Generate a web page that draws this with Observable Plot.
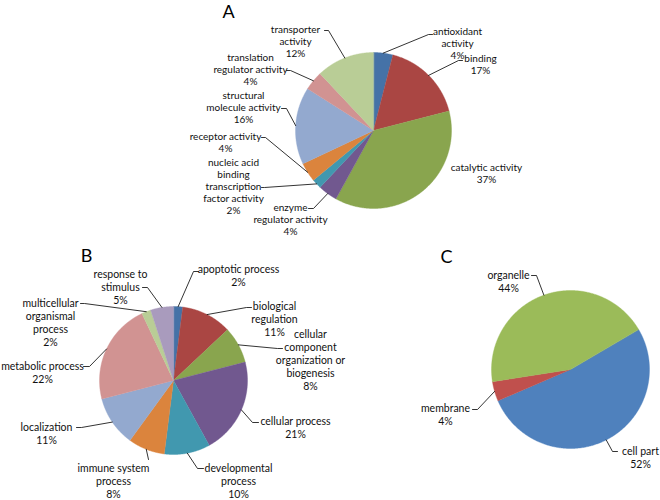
<!DOCTYPE html>
<html><head><meta charset="utf-8">
<script src="https://cdn.jsdelivr.net/npm/d3@7"></script>
<script src="https://cdn.jsdelivr.net/npm/@observablehq/plot@0.6"></script>
<style>body{margin:0;background:#fff}#chart svg{display:block}</style>
</head><body><div id="chart"></div>
<script>
// ---- Data ----
const categoriesA = ["antioxidant activity","binding","catalytic activity","enzyme regulator activity","nucleic acid binding transcription factor activity","receptor activity","structural molecule activity","translation regulator activity","transporter activity"];
const valuesA = [4,17,37,4,2,4,16,4,12];
const colorsA = ["#4572A7","#AA4643","#89A54E","#71588F","#4198AF","#DB843D","#93A9CF","#D19392","#B9CD96"];

const categoriesB = ["apoptotic process","biological regulation","cellular component organization or biogenesis","cellular process","developmental process","immune system process","localization","metabolic process","multicellular organismal process","response to stimulus"];
const valuesB = [2,11,8,21,10,8,11,22,2,5];
const colorsB = ["#4572A7","#AA4643","#89A54E","#71588F","#4198AF","#DB843D","#93A9CF","#D19392","#B9CD96","#A99BBD"];

const categoriesC = ["cell part","membrane","organelle"];
const valuesC = [52,4,44];
const colorsC = ["#4F81BD","#C0504D","#9BBB59"];

const panelLetters = ["A","B","C"];

// ---- Layout (positions only) ----
const layoutA = {
  "antioxidant activity": {lines:["antioxidant","activity"], x:457, y:31, lead:[[432,34],[428,34]]},
  "binding": {lines:["binding"], x:480, y:58, lead:[[462,60],[458,60]]},
  "catalytic activity": {lines:["catalytic activity"], x:486, y:167, lead:null},
  "enzyme regulator activity": {lines:["enzyme","regulator activity"], x:290, y:207, lead:[[308,208],[313,208]]},
  "nucleic acid binding transcription factor activity": {lines:["nucleic acid","binding","transcription","factor activity"], x:233, y:162, lead:[[261,187],[264,187]]},
  "receptor activity": {lines:["receptor activity"], x:225, y:136, lead:[[261,137],[265,137]]},
  "structural molecule activity": {lines:["structural","molecule activity"], x:243, y:95, lead:[[281,108],[286,108]]},
  "translation regulator activity": {lines:["translation","regulator activity"], x:250, y:57, lead:[[286,70],[290,70]]},
  "transporter activity": {lines:["transporter","activity"], x:295, y:29, lead:[[324,30],[328,30]]}
};
const layoutB = {
  "apoptotic process": {lines:["apoptotic process"], x:238, y:268, lead:[[198,271],[193,271]]},
  "biological regulation": {lines:["biological","regulation"], x:274, y:305, lead:[[251,307],[246,307]]},
  "cellular component organization or biogenesis": {lines:["cellular","component","organization or","biogenesis"], x:310, y:333, lead:[[282,348],[277,348]]},
  "cellular process": {lines:["cellular process"], x:295, y:420, lead:[[258,422],[252,422]]},
  "developmental process": {lines:["developmental","process"], x:238, y:467, lead:[[203,468],[197,468]]},
  "immune system process": {lines:["immune system","process"], x:113, y:467, lead:[[148,459]]},
  "localization": {lines:["localization"], x:46, y:426, lead:[[76,427],[81,427]]},
  "metabolic process": {lines:["metabolic process"], x:42, y:365, lead:[[83,366],[89,366]]},
  "multicellular organismal process": {lines:["multicellular","organismal","process"], x:50, y:302, lead:[[80,303],[84,303]]},
  "response to stimulus": {lines:["response to","stimulus"], x:120, y:273, lead:[[142,287],[147,287]]}
};
const layoutC = {
  "cell part": {lines:["cell part"], x:640, y:450, lead:[[617,451],[612,451]]},
  "membrane": {lines:["membrane"], x:445, y:407, lead:[[472,409],[477,409]]},
  "organelle": {lines:["organelle"], x:508, y:274, lead:[[531,275],[536,275]]}
};

const pies = [
  {cats:categoriesA, vals:valuesA, cols:colorsA, layout:layoutA, cx:373, cy:130, r:78, start:0, fs:10, lh:12, letter:{x:228, y:12}},
  {cats:categoriesB, vals:valuesB, cols:colorsB, layout:layoutB, cx:173, cy:380, r:74, start:0, fs:10.5, lh:13, letter:{x:86, y:256}},
  {cats:categoriesC, vals:valuesC, cols:colorsC, layout:layoutC, cx:570, cy:369, r:79, start:59.5*Math.PI/180, fs:10.5, lh:13, letter:{x:446, y:257}}
];

// ---- Build mark data ----
const slicePts = [], leaderPts = [], labelRows = [], letterRows = [];
pies.forEach((p, pi) => {
  const arcs = d3.pie().sort(null).startAngle(p.start).endAngle(p.start + 2*Math.PI)(p.vals);
  arcs.forEach((a, i) => {
    const key = pi + "-" + i;
    const pt = ang => ({x: p.cx + p.r*Math.sin(ang), y: p.cy - p.r*Math.cos(ang)});
    slicePts.push({key, color:p.cols[i], x:p.cx, y:p.cy});
    const n = Math.max(2, Math.ceil((a.endAngle - a.startAngle)/(Math.PI/360)));
    for (let k = 0; k <= n; k++) {
      const q = pt(a.startAngle + (a.endAngle - a.startAngle)*k/n);
      slicePts.push({key, color:p.cols[i], x:q.x, y:q.y});
    }
    const L = p.layout[p.cats[i]];
    const txt = L.lines.concat([p.vals[i] + "%"]);
    const nl = txt.length;
    labelRows.push({text: txt.join("\n"), x: L.x, y: L.y + (nl-1)*p.lh/2, pi});
    if (L.lead) {
      const mid = pt((a.startAngle + a.endAngle)/2);
      L.lead.forEach(([x,y]) => leaderPts.push({key, x, y}));
      leaderPts.push({key, x: mid.x, y: mid.y});
    }
  });
  letterRows.push({text: panelLetters[pi], x:p.letter.x, y:p.letter.y});
});

const font = "Lato, 'Open Sans', sans-serif";
const textMarks = pies.map((p, pi) => Plot.text(labelRows.filter(d => d.pi === pi), {
  x:"x", y:"y", text:"text", fontSize:p.fs, lineHeight:p.lh/p.fs, lineAnchor:"middle",
  textAnchor:"middle", fill:"#111", fontFamily:font
}));

const chart = Plot.plot({
  width:660, height:500, margin:0,
  x:{domain:[0,660], range:[0,660], axis:null},
  y:{domain:[0,500], range:[0,500], axis:null},
  color:{type:"identity"},
  style:{fontFamily:font, background:"#fff"},
  marks:[
    Plot.line(slicePts, {x:"x", y:"y", z:"key", fill:"color", stroke:"color", strokeWidth:0.4, curve:"linear-closed"}),
    Plot.line(leaderPts, {x:"x", y:"y", z:"key", stroke:"#000", strokeWidth:0.8}),
    ...textMarks,
    Plot.text(letterRows, {x:"x", y:"y", text:"text", fontSize:18, lineAnchor:"middle", fill:"#000", fontFamily:font})
  ]
});
document.getElementById("chart").appendChild(chart);
</script>
</body></html>
